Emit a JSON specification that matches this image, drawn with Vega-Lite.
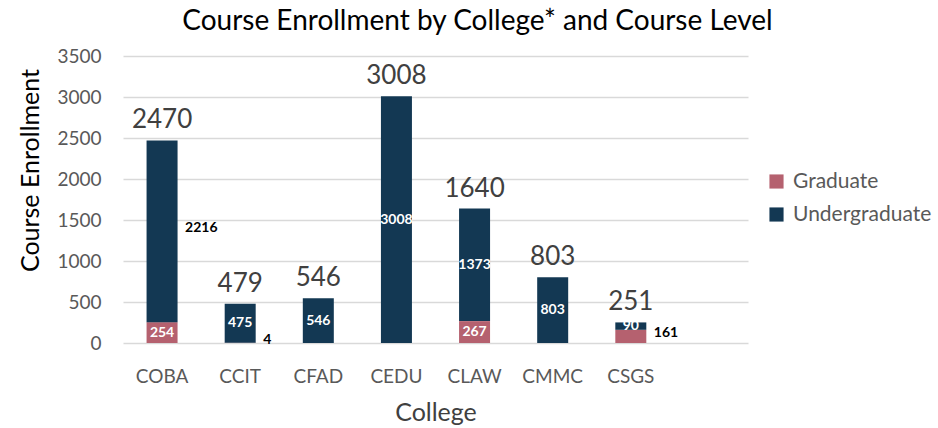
{
  "$schema": "https://vega.github.io/schema/vega-lite/v6.json",
  "width": 625,
  "height": 287,
  "autosize": "none",
  "padding": {"left": 123, "top": 56, "right": 190, "bottom": 85},
  "background": "white",
  "config": {
    "font": "Lato",
    "view": {"stroke": null},
    "axis": {"labelFont": "Lato", "titleFont": "Lato"}
  },
  "title": {
    "text": "Course Enrollment by College* and Course Level",
    "font": "Lato",
    "fontSize": 28,
    "fontWeight": "normal",
    "color": "#000000",
    "anchor": "middle",
    "offset": 11,
    "dx": 42
  },
  "data": {
    "values": [
      {"College": "COBA", "Level": "Graduate", "Enrollment": 254},
      {"College": "COBA", "Level": "Undergraduate", "Enrollment": 2216},
      {"College": "CCIT", "Level": "Graduate", "Enrollment": 4},
      {"College": "CCIT", "Level": "Undergraduate", "Enrollment": 475},
      {"College": "CFAD", "Level": "Undergraduate", "Enrollment": 546},
      {"College": "CEDU", "Level": "Undergraduate", "Enrollment": 3008},
      {"College": "CLAW", "Level": "Graduate", "Enrollment": 267},
      {"College": "CLAW", "Level": "Undergraduate", "Enrollment": 1373},
      {"College": "CMMC", "Level": "Undergraduate", "Enrollment": 803},
      {"College": "CSGS", "Level": "Graduate", "Enrollment": 161},
      {"College": "CSGS", "Level": "Undergraduate", "Enrollment": 90}
    ]
  },
  "transform": [
    {"stack": "Enrollment", "groupby": ["College"], "sort": [{"field": "Level", "order": "ascending"}], "as": ["y0", "y1"]},
    {"calculate": "(datum.y0 + datum.y1) / 2", "as": "ymid"}
  ],
  "encoding": {
    "x": {
      "field": "College",
      "type": "nominal",
      "scale": {"domain": ["COBA", "CCIT", "CFAD", "CEDU", "CLAW", "CMMC", "CSGS", " "], "paddingInner": 0.6, "paddingOuter": 0.3},
      "axis": {
        "values": ["COBA", "CCIT", "CFAD", "CEDU", "CLAW", "CMMC", "CSGS"],
        "labelAngle": 0,
        "labelFontSize": 19,
        "labelColor": "#595959",
        "labelPadding": 24,
        "ticks": false,
        "domain": false,
        "title": "College",
        "titleFontSize": 25,
        "titleFontWeight": "normal",
        "titleColor": "#404040",
        "titlePadding": 14
      }
    }
  },
  "layer": [
    {
      "mark": {"type": "bar", "width": 31},
      "encoding": {
        "y": {
          "field": "y1",
          "type": "quantitative",
          "scale": {"domain": [0, 3500]},
          "axis": {
            "values": [0, 500, 1000, 1500, 2000, 2500, 3000, 3500],
            "format": "d",
            "labelFontSize": 19,
            "labelColor": "#595959",
            "labelPadding": 22,
            "ticks": false,
            "domain": false,
            "gridColor": "#d9d9d9",
            "gridWidth": 1.5,
            "title": "Course Enrollment",
            "titleFontSize": 25,
            "titleFontWeight": "normal",
            "titleColor": "#000000",
            "titlePadding": 13,
            "titleY": 114
          }
        },
        "y2": {"field": "y0"},
        "color": {
          "field": "Level",
          "type": "nominal",
          "scale": {"domain": ["Graduate", "Undergraduate"], "range": ["#b5616f", "#133853"]},
          "legend": {
            "title": null,
            "orient": "none",
            "legendX": 643,
            "legendY": 115,
            "symbolType": "square",
            "symbolSize": 200,
            "symbolStrokeWidth": 0,
            "labelFontSize": 21,
            "labelColor": "#595959",
            "rowPadding": 11,
            "labelOffset": 6
          }
        }
      }
    },
    {
      "transform": [
        {"filter": "!((datum.College == 'COBA' && datum.Level == 'Undergraduate') || (datum.College == 'CCIT' && datum.Level == 'Graduate') || (datum.College == 'CSGS' && datum.Level == 'Graduate'))"}
      ],
      "mark": {"type": "text", "color": "white", "fontWeight": "bold", "fontSize": 14, "baseline": "middle"},
      "encoding": {
        "y": {"field": "ymid", "type": "quantitative"},
        "text": {"field": "Enrollment", "type": "quantitative"}
      }
    },
    {
      "transform": [
        {"filter": "(datum.College == 'COBA' && datum.Level == 'Undergraduate') || (datum.College == 'CCIT' && datum.Level == 'Graduate') || (datum.College == 'CSGS' && datum.Level == 'Graduate')"}
      ],
      "mark": {"type": "text", "color": "black", "fontWeight": "bold", "fontSize": 14, "baseline": "middle", "align": "left", "dx": 23, "dy": -3},
      "encoding": {
        "y": {"field": "ymid", "type": "quantitative"},
        "text": {"field": "Enrollment", "type": "quantitative"}
      }
    },
    {
      "transform": [
        {"aggregate": [{"op": "sum", "field": "Enrollment", "as": "Total"}], "groupby": ["College"]}
      ],
      "mark": {"type": "text", "color": "#404040", "fontSize": 26, "baseline": "middle", "dy": -20},
      "encoding": {
        "y": {"field": "Total", "type": "quantitative"},
        "text": {"field": "Total", "type": "quantitative"}
      }
    }
  ]
}
